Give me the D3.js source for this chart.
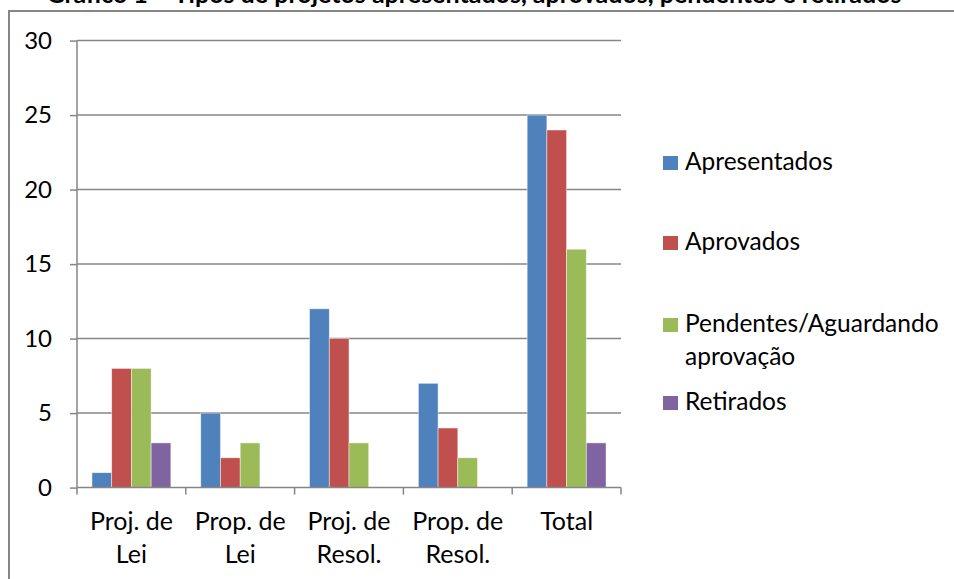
<!doctype html>
<html lang="pt">
<head>
  <meta charset="utf-8">
  <title>Gráfico - Tipos de projetos</title>
  <script src="https://d3js.org/d3.v7.min.js"></script>
  <style>
    body { margin: 0; background: #fff; }
    svg { display: block; font-family: Lato, "Open Sans", sans-serif; }
  </style>
</head>
<body>
  <script type="text/javascript">
    // categories (x labels, split onto two lines)
    var categories = ["Proj. de Lei", "Prop. de Lei", "Proj. de Resol.", "Prop. de Resol.", "Total"];
    var categoryLines = [["Proj. de", "Lei"], ["Prop. de", "Lei"], ["Proj. de", "Resol."], ["Prop. de", "Resol."], ["Total"]];

    // series
    var seriesNames = ["Apresentados", "Aprovados", "Pendentes/Aguardando aprovação", "Retirados"];
    var legendLines = [["Apresentados"], ["Aprovados"], ["Pendentes/Aguardando", "aprovação"], ["Retirados"]];
    var apresentados = [1, 5, 12, 7, 25];
    var aprovados = [8, 2, 10, 4, 24];
    var pendentes = [8, 3, 3, 2, 16];
    var retirados = [3, 0, 0, 0, 3];
    var colors = ["#4F81BD", "#C0504D", "#9BBB59", "#8064A2"];

    var yTicks = [0, 5, 10, 15, 20, 25, 30];

    var title = "Gráfico 1 – Tipos de projetos apresentados, aprovados, pendentes e retirados";

    var width = 954;
    var height = 579;

    var svg = d3.select("body")
      .append("svg")
      .attr("width", width)
      .attr("height", height);

    // title, cut off by the top of the picture (as in the source)
    svg.append("text")
      .attr("x", 474)
      .attr("y", 3)
      .attr("text-anchor", "middle")
      .attr("font-weight", "bold")
      .attr("font-size", 25)
      .attr("fill", "#000")
      .text(title);

    // chart border
    svg.append("rect")
      .attr("x", 9)
      .attr("y", 11)
      .attr("width", 960)
      .attr("height", 600)
      .attr("fill", "none")
      .attr("stroke", "#868686")
      .attr("stroke-width", 2);

    var plot = { left: 77, right: 621, top: 40.6, bottom: 487.6 };

    var x0 = d3.scaleBand()
      .domain(categories)
      .range([plot.left, plot.right])
      .paddingInner(0.275)
      .paddingOuter(0.1375);

    var x1 = d3.scaleBand()
      .domain(seriesNames)
      .range([0, x0.bandwidth()]);

    var y = d3.scaleLinear()
      .domain([0, 30])
      .range([plot.bottom, plot.top]);

    // gridlines
    svg.append("g")
      .selectAll("line")
      .data(yTicks.slice(1))
      .join("line")
      .attr("x1", plot.left)
      .attr("x2", plot.right)
      .attr("y1", d => y(d))
      .attr("y2", d => y(d))
      .attr("stroke", "#868686")
      .attr("stroke-width", 1.5);

    // bars
    var table = categories.map((c, i) => ({
      category: c,
      values: [apresentados[i], aprovados[i], pendentes[i], retirados[i]]
    }));

    var groups = svg.append("g")
      .selectAll("g")
      .data(table)
      .join("g")
      .attr("transform", d => "translate(" + x0(d.category) + ",0)");

    groups.selectAll("rect")
      .data(d => d.values.map((v, j) => ({ name: seriesNames[j], value: v, color: colors[j] })))
      .join("rect")
      .filter(d => d.value > 0)
      .attr("x", d => x1(d.name))
      .attr("y", d => y(d.value))
      .attr("width", x1.bandwidth())
      .attr("height", d => y(0) - y(d.value))
      .attr("fill", d => d.color)
      .attr("stroke", "#fff")
      .attr("stroke-opacity", 0.6)
      .attr("stroke-width", 0.75);

    // y axis
    var yAxis = d3.axisLeft(y)
      .tickValues(yTicks)
      .tickSize(7)
      .tickPadding(18);

    var yAxisGroup = svg.append("g")
      .attr("transform", "translate(" + plot.left + ",0)")
      .call(yAxis);

    // x axis: ticks at category boundaries
    var xAxisGroup = svg.append("g");
    xAxisGroup.append("line")
      .attr("x1", plot.left)
      .attr("x2", plot.right)
      .attr("y1", plot.bottom)
      .attr("y2", plot.bottom);

    var boundaries = categories.map(c => x0(c) - x0.step() * x0.paddingInner() / 2)
      .concat([plot.right]);
    boundaries[0] = plot.left;

    xAxisGroup.selectAll("line.tick")
      .data(boundaries)
      .join("line")
      .attr("class", "tick")
      .attr("x1", d => d)
      .attr("x2", d => d)
      .attr("y1", plot.bottom)
      .attr("y2", plot.bottom + 7);

    xAxisGroup.selectAll("line")
      .attr("stroke", "#868686")
      .attr("stroke-width", 1.5);

    xAxisGroup.selectAll("text")
      .data(table)
      .join("text")
      .attr("text-anchor", "middle")
      .attr("font-size", 25)
      .attr("fill", "#000")
      .attr("transform", d => "translate(" + (x0(d.category) + x0.bandwidth() / 2) + ",0)")
      .selectAll("tspan")
      .data((d, i) => categoryLines[i])
      .join("tspan")
      .attr("x", 0)
      .attr("y", (d, i) => 530 + i * 33)
      .text(d => d);

    yAxisGroup.select(".domain").remove();
    yAxisGroup.append("line")
      .attr("y1", plot.top)
      .attr("y2", plot.bottom)
      .attr("stroke", "#868686")
      .attr("stroke-width", 1.5);
    yAxisGroup.selectAll(".tick line")
      .attr("stroke", "#868686")
      .attr("stroke-width", 1.5);
    yAxisGroup.selectAll(".tick text")
      .attr("font-size", 24)
      .attr("font-family", "Lato, sans-serif")
      .attr("fill", "#000");

    // legend
    var legendY = [170, 250, 332, 410];
    var legend = svg.append("g")
      .selectAll("g")
      .data(seriesNames)
      .join("g")
      .attr("transform", (d, i) => "translate(663," + legendY[i] + ")");

    legend.append("rect")
      .attr("x", 0)
      .attr("y", -14)
      .attr("width", 15)
      .attr("height", 14)
      .attr("fill", (d, i) => colors[i]);

    legend.append("text")
      .attr("font-size", 24.5)
      .attr("fill", "#000")
      .selectAll("tspan")
      .data((d, i) => legendLines[i])
      .join("tspan")
      .attr("x", 22)
      .attr("y", (d, i) => i * 33)
      .text(d => d);
  </script>
</body>
</html>
